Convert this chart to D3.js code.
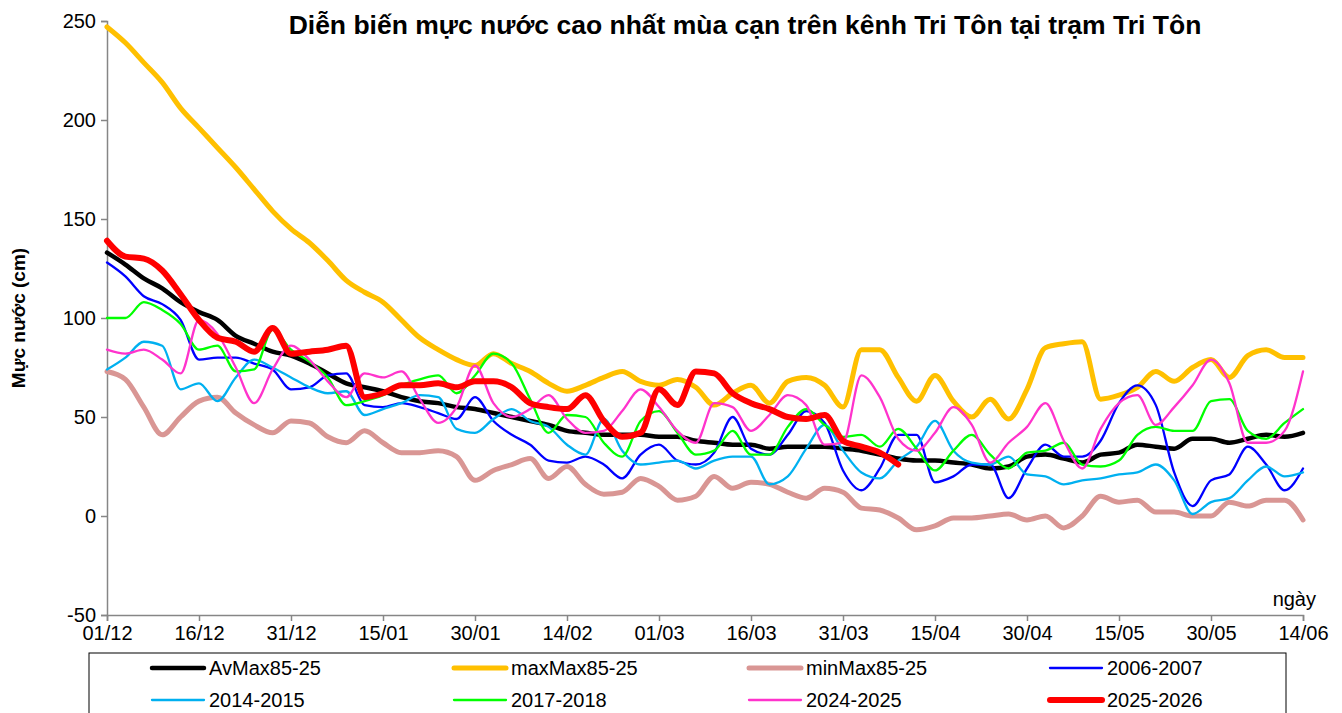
<!DOCTYPE html>
<html>
<head>
<meta charset="utf-8">
<script src="https://cdn.jsdelivr.net/npm/d3@7"></script>
<style>
  body { margin: 0; background: #fff; }
  text { font-family: "Liberation Sans", Arial, sans-serif; }
</style>
</head>
<body>
<div id="chart"></div>
<script>
// ngày tính từ 01/12, một giá trị mỗi 3 ngày
const tickLabels = ["01/12", "16/12", "31/12", "15/01", "30/01", "14/02", "01/03", "16/03", "31/03", "15/04", "30/04", "15/05", "30/05", "14/06"]
const yTicks = [-50, 0, 50, 100, 150, 200, 250]

const avMax = [133, 127, 120, 115, 108, 103, 99, 91, 87, 83, 81, 77, 72, 67, 65, 63, 60, 58, 57, 55, 54, 52, 50, 48, 46, 43, 42, 41, 41, 41, 40, 40, 38, 37, 36, 36, 34, 35, 35, 35, 34, 33, 31, 29, 28, 28, 27, 26, 24, 25, 30, 31, 29, 27, 31, 32, 36, 35, 34, 39, 39, 37, 39, 41, 40, 42]
const maxMax = [247, 239, 229, 219, 206, 196, 186, 176, 165, 154, 145, 138, 129, 119, 113, 108, 99, 90, 84, 79, 76, 82, 77, 73, 67, 63, 66, 70, 73, 68, 66, 69, 65, 56, 62, 66, 57, 68, 70, 66, 55, 84, 84, 70, 58, 71, 58, 50, 59, 49, 64, 85, 87, 88, 59, 61, 65, 73, 68, 75, 79, 70, 81, 84, 80, 80]
const minMax = [73, 69, 55, 41, 50, 58, 60, 52, 46, 42, 48, 47, 40, 37, 43, 37, 32, 32, 33, 30, 18, 23, 26, 29, 19, 25, 16, 11, 12, 19, 15, 8, 10, 20, 14, 17, 16, 12, 9, 14, 12, 4, 3, -1, -7, -5, -1, -1, 0, 1, -2, 0, -6, 0, 10, 7, 8, 2, 2, 0, 0, 7, 5, 8, 8, -2]
const y2006 = [128, 121, 111, 107, 99, 79, 80, 80, 77, 74, 64, 65, 71, 72, 56, 55, 57, 55, 52, 49, 60, 48, 41, 36, 28, 27, 30, 26, 19, 31, 36, 28, 26, 32, 50, 34, 31, 41, 53, 47, 23, 13, 24, 41, 41, 17, 20, 26, 26, 9, 24, 36, 30, 30, 38, 57, 66, 56, 22, 5, 18, 21, 35, 26, 13, 24]
const y2014 = [74, 80, 88, 86, 64, 67, 58, 70, 79, 75, 70, 65, 62, 63, 51, 54, 57, 61, 60, 44, 42, 49, 54, 48, 45, 36, 31, 49, 33, 26, 27, 28, 24, 28, 30, 30, 16, 20, 34, 46, 33, 22, 19, 28, 35, 48, 33, 27, 26, 30, 21, 20, 16, 18, 19, 21, 22, 26, 18, 1, 7, 9, 18, 25, 20, 22]
const y2017 = [100, 100, 108, 104, 97, 84, 86, 73, 74, 94, 84, 78, 70, 56, 58, 61, 66, 69, 71, 62, 71, 82, 77, 59, 42, 51, 50, 37, 30, 48, 53, 42, 31, 33, 43, 31, 31, 45, 54, 46, 40, 41, 35, 44, 34, 23, 33, 41, 31, 24, 32, 33, 37, 26, 25, 28, 41, 45, 43, 43, 58, 59, 43, 39, 47, 54]
const y2024 = [84, 82, 84, 79, 72, 99, 92, 75, 57, 74, 86, 79, 68, 60, 72, 70, 73, 59, 47, 55, 76, 57, 50, 54, 61, 49, 42, 43, 53, 64, 55, 43, 37, 57, 55, 43, 51, 61, 56, 36, 37, 71, 60, 39, 33, 42, 55, 46, 27, 37, 45, 57, 38, 24, 44, 57, 61, 46, 55, 66, 79, 67, 37, 37, 43, 73]
const y2025 = [139, 131, 130, 124, 112, 99, 90, 88, 83, 95, 82, 83, 84, 86, 60, 62, 66, 66, 67, 65, 68, 68, 65, 57, 55, 54, 61, 48, 40, 42, 64, 56, 73, 72, 62, 57, 54, 50, 49, 51, 38, 35, 32, 26]

const seriesNames = ["AvMax85-25", "maxMax85-25", "minMax85-25", "2006-2007", "2014-2015", "2017-2018", "2024-2025", "2025-2026"]
const seriesValues = [avMax, maxMax, minMax, y2006, y2014, y2017, y2024, y2025]
const colors = ["#000000", "#ffc000", "#d99694", "#0000ff", "#00b0f0", "#00ff00", "#ff33cc", "#ff0000"]
const widths = [4.5, 5, 5, 2.3, 2.3, 2.3, 2.3, 6]

const width = 1342
const height = 713
const margin = { top: 21, bottom: 98, left: 107, right: 39 }
const step = 3

const svg = d3.select("#chart").append("svg").attr("width", width).attr("height", height)

const x = d3.scaleLinear().domain([0, 195]).range([margin.left, width - margin.right])
const y = d3.scaleLinear().domain([-50, 250]).range([height - margin.bottom, margin.top])

// trục
const xAxis = d3.axisBottom(x).tickValues(d3.range(0, 196, 15)).tickSize(6).tickFormat((d, i) => tickLabels[i])
const yAxis = d3.axisLeft(y).tickValues(yTicks).tickSize(6).tickFormat(d => String(d))

const xAxisGroup = svg.append("g").attr("transform", `translate(0, ${y(-50)})`).call(xAxis)
const yAxisGroup = svg.append("g").attr("transform", `translate(${margin.left}, 0)`).call(yAxis)

;[xAxisGroup, yAxisGroup].forEach(g => {
    g.select(".domain").attr("stroke", "#868686").attr("stroke-width", 1.5)
    g.selectAll(".tick line").attr("stroke", "#868686").attr("stroke-width", 1.5)
    g.selectAll(".tick text").attr("fill", "#000").style("font-size", "20px").style("font-family", "Liberation Sans, Arial, sans-serif")
})
xAxisGroup.selectAll(".tick text").attr("dy", "0.55em").attr("y", 14)
yAxisGroup.selectAll(".tick text").attr("x", -11)

// đường
const line = d3.line()
    .x((d, i) => x(i * step))
    .y(d => y(d))
    .curve(d3.curveMonotoneX)

const lines = svg.append("g").attr("fill", "none").attr("stroke-linejoin", "round").attr("stroke-linecap", "round")
seriesValues.forEach((vals, k) => {
    lines.append("path")
        .attr("d", line(vals))
        .attr("stroke", colors[k])
        .attr("stroke-width", widths[k])
})

// chữ
svg.append("text")
    .attr("x", 745).attr("y", 34)
    .attr("text-anchor", "middle")
    .style("font-size", "26.5px").style("font-weight", "bold")
    .text("Diễn biến mực nước cao nhất mùa cạn trên kênh Tri Tôn tại trạm Tri Tôn")

svg.append("text")
    .attr("transform", "translate(25, 318) rotate(-90)")
    .attr("text-anchor", "middle")
    .style("font-size", "19px").style("font-weight", "bold")
    .text("Mực nước (cm)")

svg.append("text")
    .attr("x", 1316).attr("y", 606)
    .attr("text-anchor", "end")
    .style("font-size", "20px")
    .text("ngày")

// chú thích
const legend = svg.append("g")
legend.append("rect")
    .attr("x", 89).attr("y", 653).attr("width", 1197).attr("height", 80)
    .attr("fill", "none").attr("stroke", "#000").attr("stroke-width", 1)

const colX = [152, 454, 749, 1050]
const rowY = [668, 700]
seriesNames.forEach((name, k) => {
    const cx = colX[k % 4]
    const cy = rowY[Math.floor(k / 4)]
    legend.append("line")
        .attr("x1", cx).attr("x2", cx + 52).attr("y1", cy).attr("y2", cy)
        .attr("stroke", colors[k]).attr("stroke-width", widths[k]).attr("stroke-linecap", "round")
    legend.append("text")
        .attr("x", cx + 57).attr("y", cy + 7)
        .style("font-size", "20px")
        .text(name)
})
</script>
</body>
</html>
